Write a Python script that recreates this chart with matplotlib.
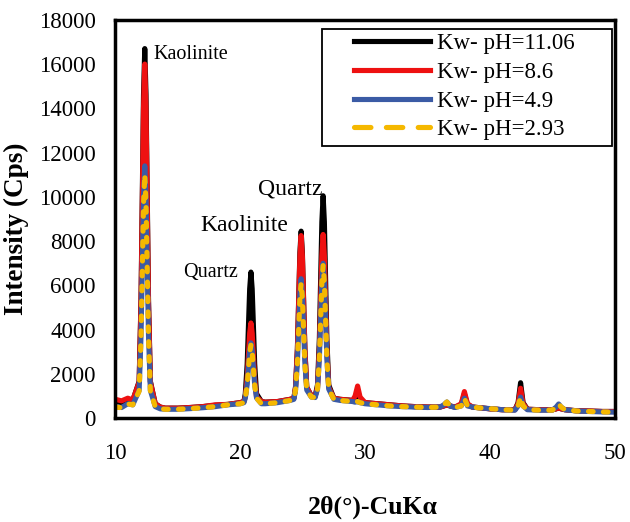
import numpy as np
import matplotlib.pyplot as plt
from matplotlib.lines import Line2D
from matplotlib.patches import Rectangle

plt.rcParams['font.family'] = ['Liberation Serif', 'DejaVu Serif']

# diffraction angle, degrees 2-theta
two_theta = [10.0, 10.5, 11.0, 11.4,
             11.91, 12.06, 12.16, 12.26, 12.36, 12.46, 12.56, 12.66, 12.81,
             13.2, 13.6, 14, 15, 16, 17, 18, 19, 20, 20.3,
             20.41, 20.56, 20.66, 20.76, 20.86, 20.96, 21.06, 21.16, 21.31,
             21.7, 22, 23, 24, 24.3,
             24.43, 24.58, 24.68, 24.78, 24.88, 24.98, 25.08, 25.18, 25.33,
             25.7, 26.0,
             26.19, 26.34, 26.44, 26.54, 26.64, 26.74, 26.84, 26.94, 27.09,
             27.5, 28, 29, 29.2, 29.4, 29.6, 30, 31, 32, 33,
             34, 35, 36, 36.3, 36.55, 36.8, 37.2, 37.7, 37.95, 38.2,
             38.6, 39, 39.5, 40, 41, 42, 42.25, 42.45, 42.65, 43,
             44, 45, 45.3, 45.5, 45.7, 46, 47, 48, 49, 50]

ph_1106 = [750, 700, 850, 800,
           1660, 5340, 9980, 14620, 16700, 14620, 9980, 5340, 1660,
           650, 500, 450, 450, 480, 520, 580, 620, 700, 750,
           1100, 2450, 4140, 5840, 6600, 5840, 4140, 2450, 1100,
           750, 720, 750, 850, 900,
           1400, 3130, 5300, 7480, 8450, 7480, 5300, 3130, 1400,
           1000, 980,
           1500, 3590, 6230, 8870, 10050, 8870, 6230, 3590, 1500,
           900, 850, 800, 850, 900, 800, 700, 650, 600, 550,
           520, 500, 500, 550, 600, 550, 500, 600, 1100, 600,
           500, 480, 450, 420, 380, 380, 700, 1600, 700, 400,
           380, 380, 420, 480, 420, 380, 330, 320, 300, 300]

ph_86 = [850, 780, 900, 820,
         1620, 5140, 9570, 14010, 16000, 14010, 9570, 5140, 1620,
         650, 500, 450, 450, 480, 520, 600, 620, 700, 750,
         960, 1780, 2810, 3840, 4300, 3840, 2810, 1780, 960,
         750, 720, 750, 850, 900,
         1390, 3070, 5180, 7300, 8250, 7300, 5180, 3070, 1390,
         1000, 980,
         1390, 3080, 5210, 7340, 8300, 7340, 5210, 3080, 1390,
         900, 850, 800, 1000, 1450, 950, 700, 650, 600, 550,
         520, 500, 500, 550, 600, 550, 500, 650, 1200, 650,
         500, 480, 450, 420, 380, 380, 650, 1350, 650, 400,
         380, 380, 420, 480, 420, 380, 330, 320, 300, 300]

ph_49 = [520, 480, 650, 600,
         1250, 3730, 6860, 10000, 11400, 10000, 6860, 3730, 1250,
         520, 420, 400, 400, 430, 470, 520, 600, 650, 700,
         910, 1520, 2290, 3060, 3400, 3060, 2290, 1520, 910,
         650, 650, 700, 800, 850,
         1270, 2500, 4050, 5600, 6300, 5600, 4050, 2500, 1270,
         950, 930,
         1310, 2700, 4460, 6210, 7000, 6210, 4460, 2700, 1310,
         850, 800, 750, 720, 750, 700, 650, 600, 550, 520,
         500, 480, 500, 600, 730, 550, 480, 550, 900, 550,
         500, 470, 450, 430, 380, 360, 550, 950, 550, 380,
         360, 360, 500, 640, 500, 380, 320, 300, 280, 270]

ph_293 = [500, 470, 640, 600,
          1220, 3620, 6630, 9650, 11000, 9650, 6630, 3620, 1220,
          520, 420, 400, 400, 430, 470, 520, 600, 650, 700,
          900, 1490, 2230, 2970, 3300, 2970, 2230, 1490, 900,
          650, 650, 700, 800, 850,
          1260, 2440, 3940, 5430, 6100, 5430, 3940, 2440, 1260,
          950, 930,
          1310, 2680, 4400, 6130, 6900, 6130, 4400, 2680, 1310,
          850, 800, 750, 720, 750, 700, 650, 600, 550, 520,
          500, 480, 500, 600, 730, 550, 480, 550, 900, 550,
          500, 470, 450, 430, 380, 360, 550, 950, 550, 380,
          360, 360, 500, 640, 500, 380, 320, 300, 280, 270]

labels = ['Kw- pH=11.06', 'Kw- pH=8.6', 'Kw- pH=4.9', 'Kw- pH=2.93']
colors = ['black', '#ee1111', '#3b5ba5', '#f5b800']
lw = 3.7

fig = plt.figure(figsize=(6.3, 5.22), dpi=100)
ax = fig.add_axes([0.183, 0.199, 0.793, 0.763])

ax.plot(two_theta, ph_1106, color=colors[0], lw=lw, solid_capstyle='round')
ax.plot(two_theta, ph_86, color=colors[1], lw=lw, solid_capstyle='round')
ax.plot(two_theta, ph_49, color=colors[2], lw=lw, solid_capstyle='round')
ax.plot(two_theta, ph_293, color=colors[3], lw=lw, dashes=(0.9, 2.0),
        dash_capstyle='round')

ax.set_xlim(10, 50)
ax.set_ylim(0, 18000)
ax.set_xticks([10, 20, 30, 40, 50])
ax.set_yticks(np.arange(0, 18001, 2000))
ax.tick_params(length=0, labelsize=16.5, pad=14)
ax.tick_params(axis='x', pad=18)
for s in ax.spines.values():
    s.set_linewidth(2.5)

ax.set_xlabel('2θ(°)-CuKα', fontsize=18.5, fontweight='bold')
ax.set_ylabel('Intensity (Cps)', fontsize=19.5, fontweight='bold')
ax.xaxis.set_label_coords(0.515, -0.195)
ax.yaxis.set_label_coords(-0.172, 0.475)

ax.text(13.04, 16450, 'Kaolinite', fontsize=14.5, va='center', ha='left')
ax.text(17.6, 6600, 'Quartz', fontsize=14.5, va='center', ha='center')
ax.text(20.3, 8700, 'Kaolinite', fontsize=17, va='center', ha='center')
ax.text(24.0, 10350, 'Quartz', fontsize=17, va='center', ha='center')

handles = [Line2D([], [], color=colors[0], lw=lw),
           Line2D([], [], color=colors[1], lw=lw),
           Line2D([], [], color=colors[2], lw=lw),
           Line2D([], [], color=colors[3], lw=lw, dashes=(3.2, 3.0), dash_capstyle='round')]
leg = ax.legend(handles, labels, loc='upper left', bbox_to_anchor=(0.478, 0.966),
                fontsize=16.5, handlelength=3.3, frameon=False, borderaxespad=0,
                borderpad=0, labelspacing=0.33, handletextpad=0.3)
ax.add_patch(Rectangle((0.414, 0.683), 0.58, 0.294, transform=ax.transAxes,
                       fill=False, edgecolor='black', lw=1.3, zorder=5))

fig.savefig('out.png', dpi=100)
